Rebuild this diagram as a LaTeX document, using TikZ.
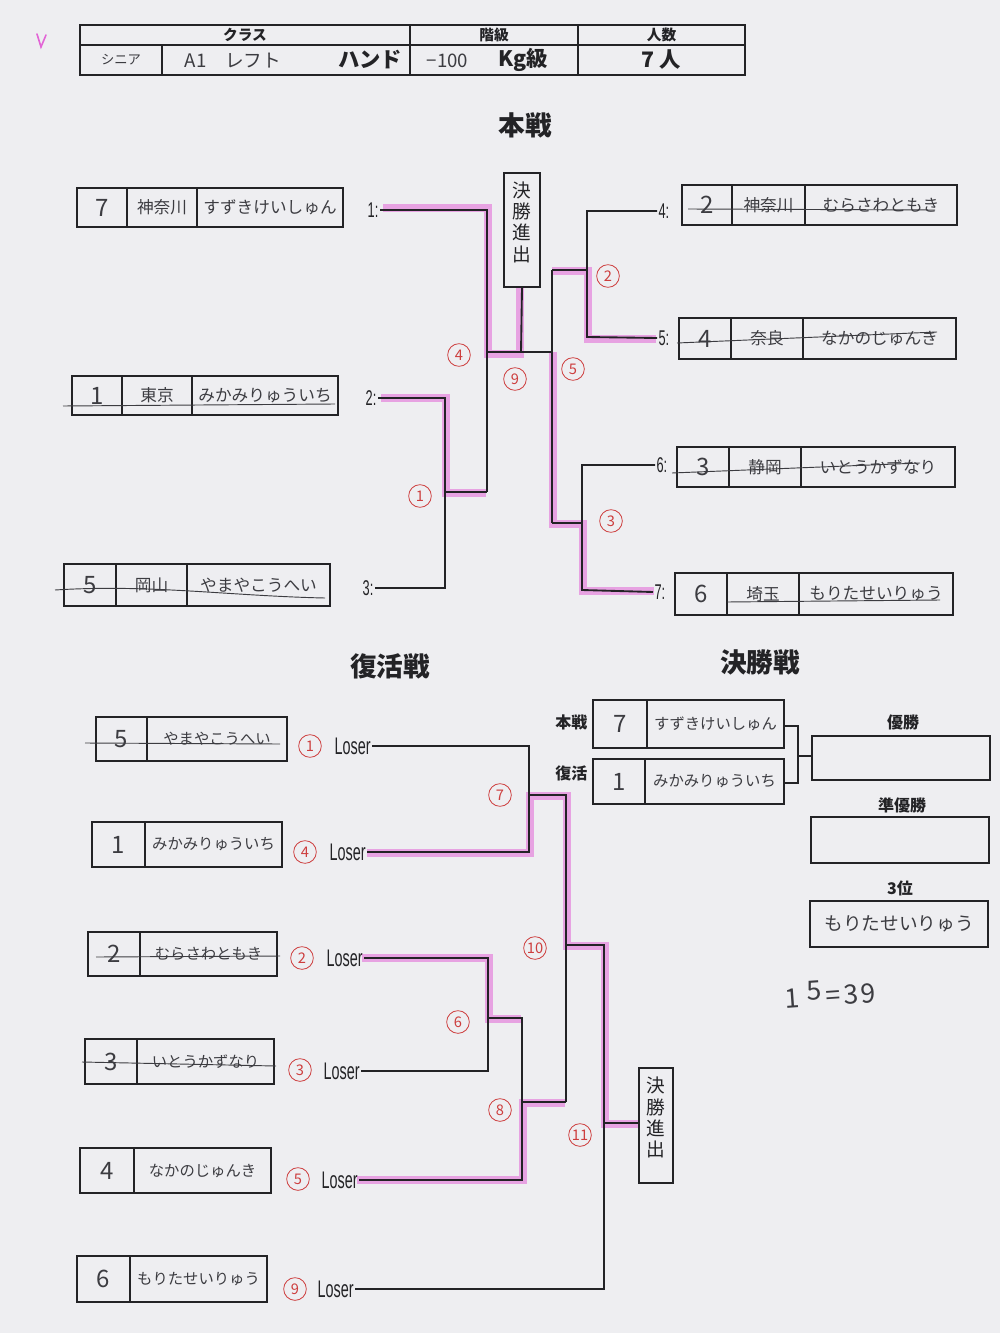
\documentclass[tikz,border=0pt]{standalone}
\usepackage{fontspec}
\usepackage{graphicx}
\setmainfont{Noto Sans CJK JP}
\newfontfamily\lat{Liberation Sans}
\usetikzlibrary{fit}
\definecolor{paper}{RGB}{238,238,241}
\definecolor{ink}{RGB}{35,35,38}
\definecolor{hand}{RGB}{60,60,65}
\definecolor{hl}{RGB}{226,100,214}
\definecolor{redpen}{RGB}{205,62,62}
\newcommand\loserTxt{\scalebox{0.6}[1]{\lat\fontsize{18}{18}\selectfont Loser}}
\newcommand\colonTxt[1]{\scalebox{0.6}[1]{\lat\fontsize{16}{16}\selectfont #1:}}
\begin{document}
\begin{tikzpicture}[x=0.75pt,y=-0.75pt,
  cell/.style={draw=ink,line width=1.3pt,inner sep=0pt},
  hw/.style={text=hand,font=\fontsize{12.5}{12.5}\selectfont},
  hws/.style={text=hand,font=\fontsize{11.5}{11.5}\selectfont},
  hwnum/.style={text=hand,font=\fontsize{18}{18}\selectfont},
  hdr/.style={text=ink,font=\bfseries\fontsize{11}{11}\selectfont},
  big/.style={text=ink,font=\bfseries\fontsize{16}{16}\selectfont},
  title/.style={text=ink,font=\bfseries\fontsize{20}{20}\selectfont},
  lbl/.style={text=ink,font=\bfseries\fontsize{12}{12}\selectfont},
  br/.style={draw=ink,line width=1.4pt},
  pk/.style={draw=hl,line width=6.5pt,opacity=0.55},
  strike/.style={draw=hand,line width=0.7pt},
  rn/.style={circle,draw=redpen,text=redpen,line width=0.6pt,inner sep=0pt,minimum size=17pt,font=\fontsize{11}{11}\selectfont},
  ks/.style={draw=ink,line width=1.2pt,inner sep=0pt,align=center,text=ink,font=\fontsize{14}{16}\selectfont}]

\fill[paper] (0,0) rectangle (1000,1333);
\useasboundingbox (0,0) rectangle (1000,1333);

% pink check mark
\draw[hl,line width=1.2pt,line cap=round] (37,34) -- (41,47) -- (46,35);

% ===== header table =====
\node[cell,fit={(80,25)(410,45)}] (hClass) {};
\node[hdr] at (hClass) {クラス};
\node[cell,fit={(410,25)(578,45)}] (hGrade) {};
\node[hdr] at (hGrade) {階級};
\node[cell,fit={(578,25)(745,45)}] (hNum) {};
\node[hdr] at (hNum) {人数};
\node[cell,fit={(80,45)(162,75)}] (vAge) {};
\node[hw,font=\fontsize{10}{10}\selectfont] at (vAge) {シニア};
\node[cell,fit={(162,45)(410,75)}] (vClass) {};
\node[hw,font=\fontsize{14}{14}\selectfont,anchor=west] (vA1) at (180,61) {A1\hspace{14pt}レフト};
\node[big,anchor=east] (vHand) at (407,60) {ハンド};
\node[cell,fit={(410,45)(578,75)}] (vGrade) {};
\node[hw,font=\fontsize{14}{14}\selectfont,anchor=west] (vW) at (422,61) {−100};
\node[big,anchor=west] (vKg) at (494,60) {Kg級};
\node[cell,fit={(578,45)(745,75)}] (vNum) {};
\node[big] at (vNum) {7 人};

% ===== titles =====
\node[title] (tMain) at (525,125) {本戦};
\node[title] (tRep) at (390,666) {復活戦};
\node[title] (tFin) at (760,662) {決勝戦};

% ===== main bracket boxes (left) =====
\node[cell,fit={(77,188)(127,227)}] (a1) {}; \node[hwnum] at (a1) {7};
\node[cell,fit={(127,188)(197,227)}] (a2) {}; \node[hw] at (a2) {神奈川};
\node[cell,fit={(197,188)(343,227)}] (a3) {}; \node[hw] at (a3) {すずきけいしゅん};
\node[cell,fit={(72,376)(122,415)}] (b1) {}; \node[hwnum] at (b1) {1};
\node[cell,fit={(122,376)(192,415)}] (b2) {}; \node[hw] at (b2) {東京};
\node[cell,fit={(192,376)(338,415)}] (b3) {}; \node[hw] at (b3) {みかみりゅういち};
\node[cell,fit={(64,564)(116,606)}] (c1) {}; \node[hwnum] at (c1) {5};
\node[cell,fit={(116,564)(187,606)}] (c2) {}; \node[hw] at (c2) {岡山};
\node[cell,fit={(187,564)(330,606)}] (c3) {}; \node[hw] at (c3) {やまやこうへい};
% right
\node[cell,fit={(682,185)(732,225)}] (d1) {}; \node[hwnum] at (d1) {2};
\node[cell,fit={(732,185)(805,225)}] (d2) {}; \node[hw] at (d2) {神奈川};
\node[cell,fit={(805,185)(957,225)}] (d3) {}; \node[hw] at (d3) {むらさわともき};
\node[cell,fit={(679,318)(731,359)}] (e1) {}; \node[hwnum] at (e1) {4};
\node[cell,fit={(731,318)(803,359)}] (e2) {}; \node[hw] at (e2) {奈良};
\node[cell,fit={(803,318)(956,359)}] (e3) {}; \node[hw] at (e3) {なかのじゅんき};
\node[cell,fit={(677,447)(729,487)}] (f1) {}; \node[hwnum] at (f1) {3};
\node[cell,fit={(729,447)(801,487)}] (f2) {}; \node[hw] at (f2) {静岡};
\node[cell,fit={(801,447)(955,487)}] (f3) {}; \node[hw] at (f3) {いとうかずなり};
\node[cell,fit={(675,573)(727,615)}] (g1) {}; \node[hwnum] at (g1) {6};
\node[cell,fit={(727,573)(799,615)}] (g2) {}; \node[hw] at (g2) {埼玉};
\node[cell,fit={(799,573)(953,615)}] (g3) {}; \node[hw] at (g3) {もりたせいりゅう};

% strikes (main)
\draw[strike] (63,406) -- (335,404);
\draw[strike] (55,590) .. controls (150,584) and (230,596) .. (325,598);
\draw[strike] (688,209) -- (935,210);
\draw[strike] (677,343) -- (937,332);
\draw[strike] (672,473) -- (920,463);
\draw[strike] (727,602) -- (940,600);

% slot labels
\node[text=ink,anchor=east,inner sep=1pt] (L1) at (380,210) {\colonTxt{1}};
\node[text=ink,anchor=east,inner sep=1pt] (L2) at (378,398) {\colonTxt{2}};
\node[text=ink,anchor=east,inner sep=1pt] (L3) at (375,588) {\colonTxt{3}};
\node[text=ink,anchor=west,inner sep=1pt] (L4) at (657,211) {\colonTxt{4}};
\node[text=ink,anchor=west,inner sep=1pt] (L5) at (657,338) {\colonTxt{5}};
\node[text=ink,anchor=west,inner sep=1pt] (L6) at (655,465) {\colonTxt{6}};
\node[text=ink,anchor=west,inner sep=1pt] (L7) at (653,592) {\colonTxt{7}};

\node[ks,fit={(504,173)(540,287)}] (KS1) {決\\勝\\進\\出};

% junction coordinates (main)
\coordinate (j4t) at (487,207);
\coordinate (j4m) at (487,352);
\coordinate (j4b) at (487,492);
\coordinate (j1t) at (445,397);
\coordinate (j1m) at (445,492);
\coordinate (j1b) at (445,588);
\coordinate (j9) at (521,352);
\coordinate (j5t) at (552,270);
\coordinate (j5m) at (552,352);
\coordinate (j5b) at (552,523);
\coordinate (j2t) at (587,210);
\coordinate (j2m) at (587,270);
\coordinate (j2b) at (587,337);
\coordinate (j3t) at (582,463);
\coordinate (j3m) at (582,523);
\coordinate (j3b) at (582,590);

% pink highlights main
\draw[pk] (383,208) -- (488,208) -- (488,354) -- (520,354) -- (520,288);
\draw[pk] (381,398) -- (446,398) -- (446,493) -- (486,493);
\draw[pk] (656,339) -- (588,339) -- (588,271) -- (552,271);
\draw[pk] (654,591) -- (583,591) -- (583,524) -- (553,524) -- (553,352);

% bracket lines main
\draw[br] (L1.east) -- (L1.east -| j4t) -- (j4b);
\draw[br] (j4m) -- (j5m);
\draw[br] (KS1.south) -- (j9);
\draw[br] (L2.east) -- (L2.east -| j1t) -- (j1b) -- (L3.east);
\draw[br] (j1m) -- (j4b);
\draw[br] (j5t) -- (j5b);
\draw[br] (j5t) -- (j2m);
\draw[br] (L4.west) -- (L4.west -| j2t) -- (j2b) -- (L5.west);
\draw[br] (j5b) -- (j3m);
\draw[br] (L6.west) -- (L6.west -| j3t) -- (j3b) -- (L7.west);

% red match numbers main
\node[rn] (m4) at (459,355) {4};
\node[rn] (m9) at (515,379) {9};
\node[rn] (m1) at (420,496) {1};
\node[rn] (m5) at (573,369) {5};
\node[rn] (m2) at (608,276) {2};
\node[rn] (m3) at (611,521) {3};

% ===== repechage =====
\node[cell,fit={(96,717)(147,761)}] (r1a) {}; \node[hwnum] at (r1a) {5};
\node[cell,fit={(147,717)(287,761)}] (r1b) {}; \node[hws] at (r1b) {やまやこうへい};
\node[cell,fit={(92,822)(145,867)}] (r2a) {}; \node[hwnum] at (r2a) {1};
\node[cell,fit={(145,822)(282,867)}] (r2b) {}; \node[hws] at (r2b) {みかみりゅういち};
\node[cell,fit={(88,932)(140,976)}] (r3a) {}; \node[hwnum] at (r3a) {2};
\node[cell,fit={(140,932)(277,976)}] (r3b) {}; \node[hws] at (r3b) {むらさわともき};
\node[cell,fit={(85,1039)(137,1084)}] (r4a) {}; \node[hwnum] at (r4a) {3};
\node[cell,fit={(137,1039)(274,1084)}] (r4b) {}; \node[hws] at (r4b) {いとうかずなり};
\node[cell,fit={(80,1148)(134,1193)}] (r5a) {}; \node[hwnum] at (r5a) {4};
\node[cell,fit={(134,1148)(271,1193)}] (r5b) {}; \node[hws] at (r5b) {なかのじゅんき};
\node[cell,fit={(77,1256)(130,1302)}] (r6a) {}; \node[hwnum] at (r6a) {6};
\node[cell,fit={(130,1256)(267,1302)}] (r6b) {}; \node[hws] at (r6b) {もりたせいりゅう};

\draw[strike] (85,743) -- (280,744);
\draw[strike] (96,957) -- (280,956);
\draw[strike] (82,1062) -- (276,1066);

\node[rn] (q1) at (310,746) {1};
\node[rn] (q4) at (305,852) {4};
\node[rn] (q2) at (302,958) {2};
\node[rn] (q3) at (300,1070) {3};
\node[rn] (q5) at (298,1179) {5};
\node[rn] (q9) at (295,1289) {9};

\node[text=ink,anchor=west,inner sep=1pt] (S1) at (333,746) {\loserTxt};
\node[text=ink,anchor=west,inner sep=1pt] (S4) at (328,852) {\loserTxt};
\node[text=ink,anchor=west,inner sep=1pt] (S2) at (325,958) {\loserTxt};
\node[text=ink,anchor=west,inner sep=1pt] (S3) at (322,1071) {\loserTxt};
\node[text=ink,anchor=west,inner sep=1pt] (S5) at (320,1180) {\loserTxt};
\node[text=ink,anchor=west,inner sep=1pt] (S9) at (316,1289) {\loserTxt};

\node[ks,fit={(639,1068)(673,1183)}] (KS2) {決\\勝\\進\\出};

\coordinate (k7t) at (529,746);
\coordinate (k7m) at (529,795);
\coordinate (k7b) at (529,852);
\coordinate (k10t) at (566,795);
\coordinate (k10m) at (566,945);
\coordinate (k10b) at (566,1102);
\coordinate (k11t) at (604,945);
\coordinate (k11m) at (604,1123);
\coordinate (k11b) at (604,1289);
\coordinate (k6t) at (488,958);
\coordinate (k6m) at (488,1018);
\coordinate (k6b) at (488,1071);
\coordinate (k8t) at (522,1018);
\coordinate (k8m) at (522,1102);
\coordinate (k8b) at (522,1180);

% pink repechage
\draw[pk] (367,853) -- (530,853) -- (530,796) -- (567,796) -- (567,946) -- (605,946) -- (605,1124) -- (638,1124);
\draw[pk] (362,958) -- (489,958) -- (489,1019) -- (521,1019);
\draw[pk] (357,1180) -- (523,1180) -- (523,1103) -- (565,1103);

% bracket lines repechage
\draw[br] (S1.east) -- (k7t) -- (k7b) -- (S4.east);
\draw[br] (k7m) -- (k10t) -- (k10b);
\draw[br] (k10m) -- (k11t) -- (k11b) -- (S9.east);
\draw[br] (k11m) -- (KS2.west |- k11m);
\draw[br] (S2.east) -- (k6t) -- (k6b) -- (S3.east);
\draw[br] (k6m) -- (k8t) -- (k8b) -- (S5.east);
\draw[br] (k8m) -- (k10b);

\node[rn] (q7) at (500,795) {7};
\node[rn] (q10) at (535,948) {10};
\node[rn] (q6) at (458,1022) {6};
\node[rn] (q8) at (500,1110) {8};
\node[rn] (q11) at (580,1135) {11};

% ===== final =====
\node[lbl,anchor=east] (fMain) at (592,722) {本戦};
\node[lbl,anchor=east] (fRep) at (592,773) {復活};
\node[cell,fit={(593,700)(647,748)}] (F1a) {}; \node[hwnum] at (F1a) {7};
\node[cell,fit={(647,700)(784,748)}] (F1b) {}; \node[hws] at (F1b) {すずきけいしゅん};
\node[cell,fit={(593,759)(645,804)}] (F2a) {}; \node[hwnum] at (F2a) {1};
\node[cell,fit={(645,759)(784,804)}] (F2b) {}; \node[hws] at (F2b) {みかみりゅういち};

\node[lbl] (wl1) at (903,722) {優勝};
\node[cell,fit={(812,736)(990,780)}] (W1) {};
\node[lbl] (wl2) at (902,805) {準優勝};
\node[cell,fit={(811,817)(989,863)}] (W2) {};
\node[lbl] (wl3) at (900,888) {3位};
\node[cell,fit={(810,901)(988,947)}] (W3) {};
\node[hw,font=\fontsize{14}{14}\selectfont] at (W3) {もりたせいりゅう};

\coordinate (fj) at (798,756);
\draw[draw=ink,line width=1.1pt] (F1b.east |- 0,726) -- (798,726) -- (798,783) -- (F2b.east |- 0,783);
\draw[draw=ink,line width=1.1pt] (fj) -- (W1.west |- fj);

\node[text=hand,font=\fontsize{20}{20}\selectfont,rotate=4] (note) at (830,993) {1\hspace{6pt}\raisebox{5pt}{5}\hspace{3pt}=\hspace{2pt}3\hspace{2pt}9};

\end{tikzpicture}
\end{document}
